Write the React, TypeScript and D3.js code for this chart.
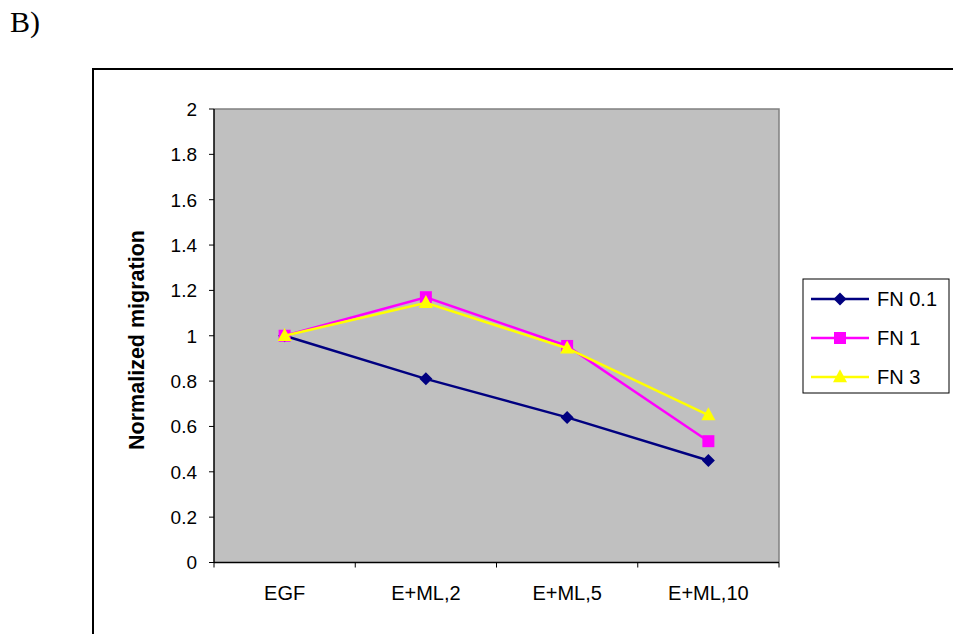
import React from "react";
import * as d3 from "d3";

// Categories along the x axis
const categories = ["EGF", "E+ML,2", "E+ML,5", "E+ML,10"];

// Normalized migration per fibronectin concentration
const seriesNames = ["FN 0.1", "FN 1", "FN 3"];
const fn01 = [1.0, 0.81, 0.64, 0.45];
const fn1 = [1.0, 1.17, 0.955, 0.535];
const fn3 = [1.0, 1.145, 0.945, 0.65];

const yTicks = [0, 0.2, 0.4, 0.6, 0.8, 1, 1.2, 1.4, 1.6, 1.8, 2];

const W = 953;
const H = 634;
const plot = { left: 214, right: 779, top: 109, bottom: 562.5 };

const series = [
  { name: seriesNames[0], values: fn01, color: "#000080", marker: "diamond" },
  { name: seriesNames[1], values: fn1, color: "#FF00FF", marker: "square" },
  { name: seriesNames[2], values: fn3, color: "#FFFF00", marker: "triangle" },
];

function Marker({ kind, x, y, color }: { kind: string; x: number; y: number; color: string }) {
  if (kind === "diamond") {
    const r = 6.5;
    return <path d={`M${x},${y - r}L${x + r},${y}L${x},${y + r}L${x - r},${y}Z`} fill={color} />;
  }
  if (kind === "square") {
    const s = 12;
    return <rect x={x - s / 2} y={y - s / 2} width={s} height={s} fill={color} />;
  }
  const w = 14;
  const h = 13;
  return (
    <path
      d={`M${x},${y - h * 0.6}L${x + w / 2},${y + h * 0.4}L${x - w / 2},${y + h * 0.4}Z`}
      fill={color}
    />
  );
}

export default function App() {
  const x = d3.scaleBand<string>().domain(categories).range([plot.left, plot.right]);
  const y = d3.scaleLinear().domain([0, 2]).range([plot.bottom, plot.top]);
  const cx = (c: string) => (x(c) as number) + x.bandwidth() / 2;

  const line = d3
    .line<number>()
    .x((_, i) => cx(categories[i]))
    .y((v) => y(v));

  const boundaries = categories.map((c) => x(c) as number).concat([plot.right]);

  const legend = { x: 803, y: 279, w: 146, h: 114 };
  const rowY = [299, 338, 377];

  return (
    <svg
      width={W}
      height={H}
      style={{ position: "absolute", left: 0, top: 0, background: "#fff" }}
      fontFamily="Arial, 'Liberation Sans', sans-serif"
    >
      <text x={10} y={32} fontFamily="'Liberation Serif', 'Times New Roman', serif" fontSize={30}>
        B)
      </text>

      {/* chart frame */}
      <rect x={93} y={69} width={W} height={H} fill="#fff" stroke="#000" strokeWidth={2} />

      {/* plot area */}
      <rect
        x={plot.left}
        y={plot.top}
        width={plot.right - plot.left}
        height={plot.bottom - plot.top}
        fill="#C0C0C0"
      />
      <path
        d={`M${plot.left},${plot.top}H${plot.right}V${plot.bottom}`}
        fill="none"
        stroke="#808080"
        strokeWidth={1.5}
      />

      {/* y axis */}
      <line x1={plot.left} x2={plot.left} y1={plot.top} y2={plot.bottom} stroke="#000" strokeWidth={1.5} />
      {yTicks.map((t) => (
        <g key={t}>
          <line x1={plot.left - 5} x2={plot.left} y1={y(t)} y2={y(t)} stroke="#000" strokeWidth={1} />
          <text x={197} y={y(t)} dy="0.36em" textAnchor="end" fontSize={19}>
            {String(t)}
          </text>
        </g>
      ))}

      {/* x axis */}
      <line x1={plot.left} x2={plot.right} y1={plot.bottom} y2={plot.bottom} stroke="#000" strokeWidth={1.5} />
      {boundaries.map((b, i) => (
        <line key={i} x1={b} x2={b} y1={plot.bottom} y2={plot.bottom + 5} stroke="#000" strokeWidth={1} />
      ))}
      {categories.map((c) => (
        <text key={c} x={cx(c)} y={600} textAnchor="middle" fontSize={20}>
          {c}
        </text>
      ))}

      <text
        transform={`translate(144,340) rotate(-90)`}
        textAnchor="middle"
        fontSize={21.5}
        fontWeight="bold"
      >
        Normalized migration
      </text>

      {/* series */}
      {series.map((s) => (
        <g key={s.name}>
          <path d={line(s.values) || ""} fill="none" stroke={s.color} strokeWidth={2.5} />
          {s.values.map((v, i) => (
            <Marker key={i} kind={s.marker} x={cx(categories[i])} y={y(v)} color={s.color} />
          ))}
        </g>
      ))}

      {/* legend */}
      <rect x={legend.x} y={legend.y} width={legend.w} height={legend.h} fill="#fff" stroke="#000" strokeWidth={1} />
      {series.map((s, i) => (
        <g key={s.name}>
          <line x1={811} x2={869} y1={rowY[i]} y2={rowY[i]} stroke={s.color} strokeWidth={2.5} />
          <Marker kind={s.marker} x={840} y={rowY[i]} color={s.color} />
          <text x={877} y={rowY[i]} dy="0.36em" fontSize={20}>
            {s.name}
          </text>
        </g>
      ))}
    </svg>
  );
}
